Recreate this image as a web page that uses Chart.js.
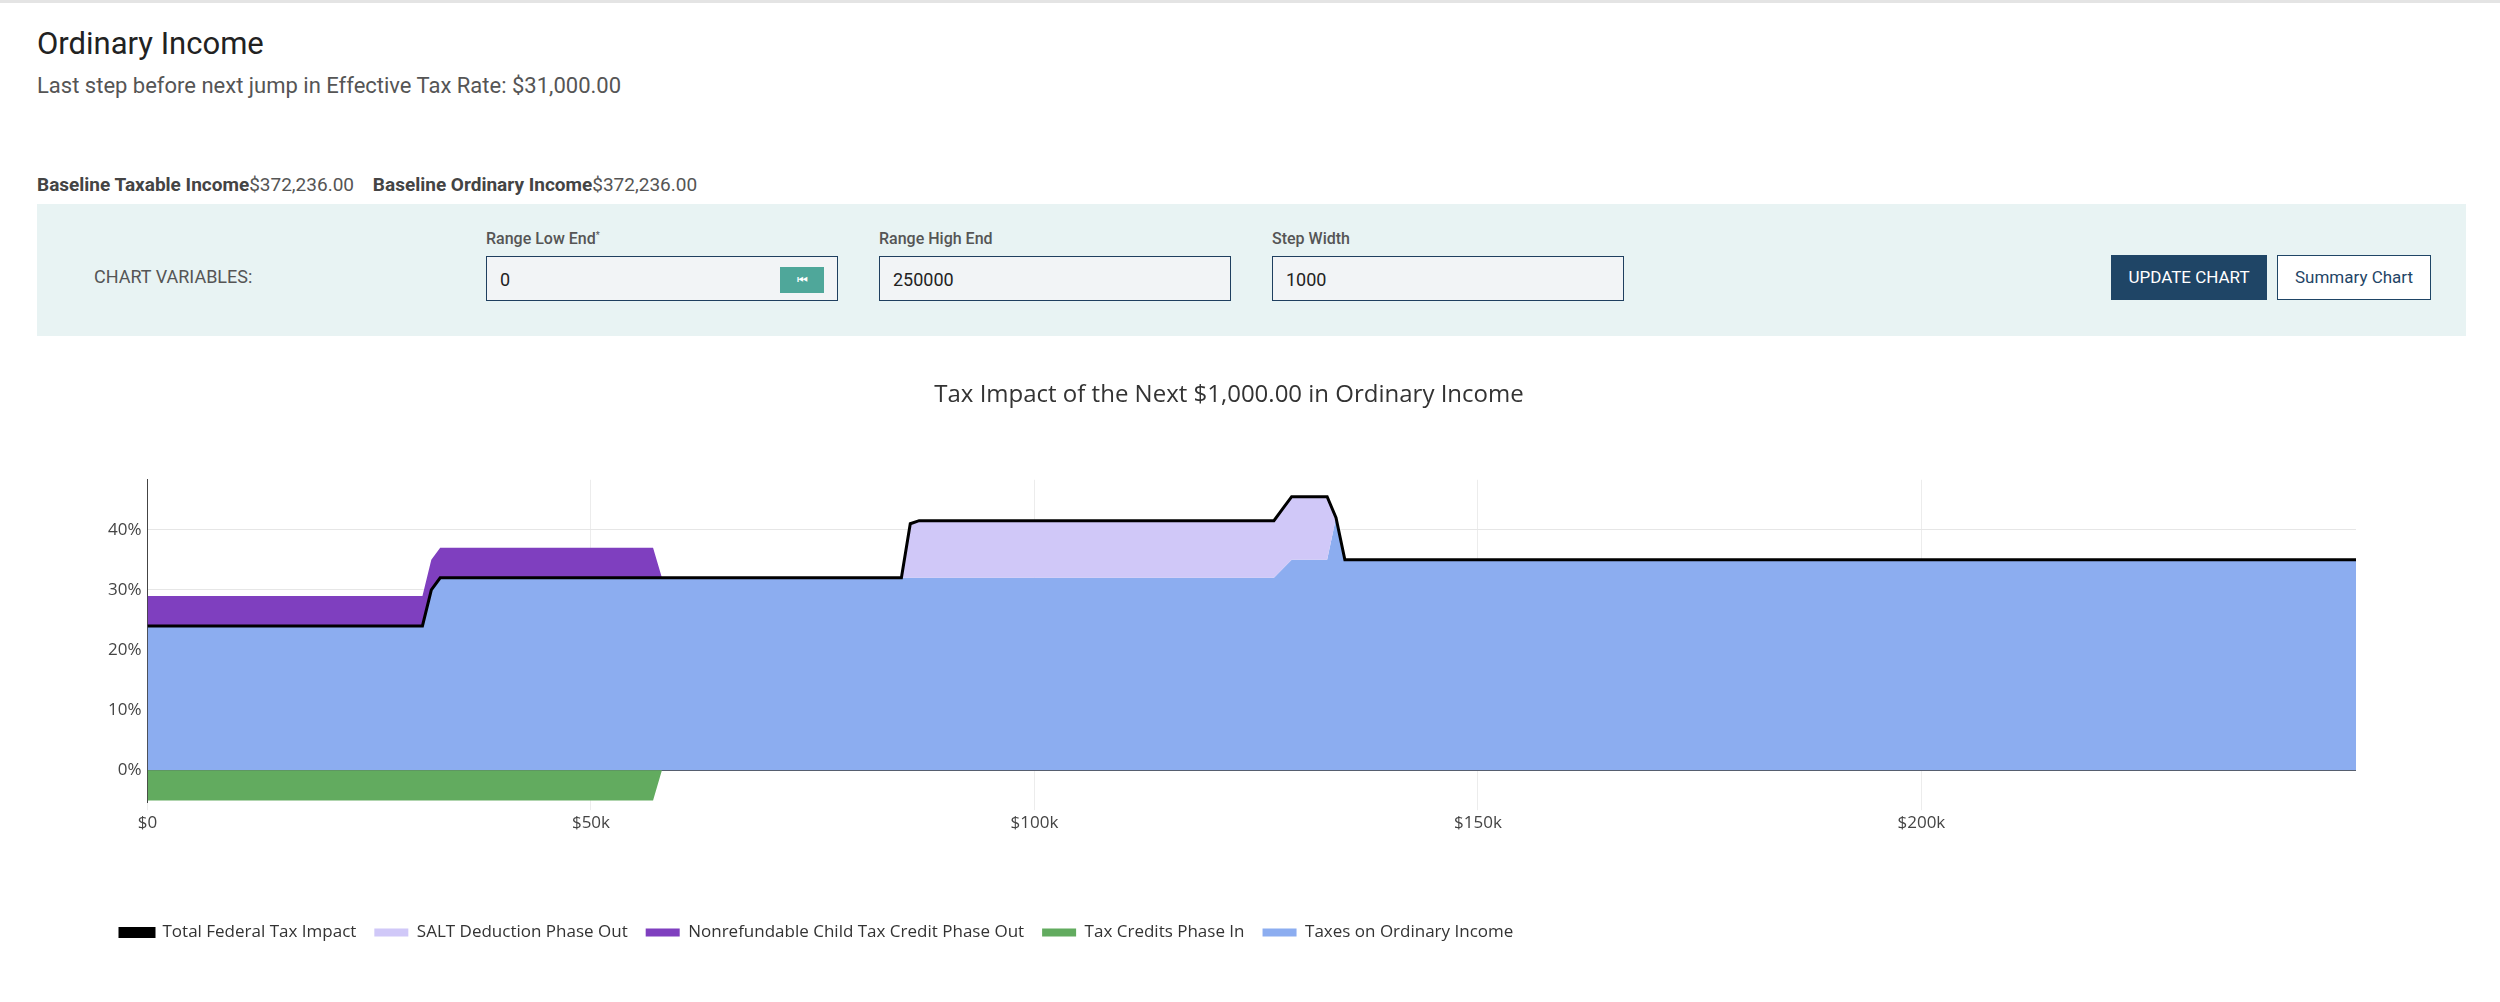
<!DOCTYPE html>
<html>
<head>
<meta charset="utf-8">
<script src="https://cdn.jsdelivr.net/npm/chart.js@4"></script>
<style>
  body { margin: 0; width: 2500px; height: 1002px; background: #fff; font-family: Roboto, sans-serif; color: #333; position: relative; overflow: hidden; border-top: 3px solid #e4e4e4; box-sizing: border-box; }
  h1 { position: absolute; left: 37px; top: 22px; margin: 0; font-size: 31px; font-weight: 400; color: #222; }
  .sub { position: absolute; left: 37px; top: 70px; font-size: 22px; color: #555; }
  .base { position: absolute; left: 37px; top: 170px; font-size: 19px; color: #555; }
  .base b { color: #444; }
  .panel { position: absolute; left: 37px; top: 201px; width: 2429px; height: 132px; background: #e8f3f3; }
  .panel .lbl { position: absolute; left: 57px; top: 62px; font-size: 18px; color: #555; }
  .fld { position: absolute; top: 25px; }
  .fld span { font-size: 16px; font-weight: 500; color: #555; }
  .fld .box { margin-top: 8px; width: 352px; height: 45px; border: 1px solid #1f3f5f; background: #f2f4f6; box-sizing: border-box; padding: 12px 13px; font-size: 18px; color: #222; position: relative; }
  .ff { position: absolute; right: 13px; top: 10px; width: 44px; height: 26px; background: #4fa79a; color: #fff; font-size: 12px; text-align: center; line-height: 26px; }
  .btn1 { position: absolute; left: 2074px; top: 51px; width: 156px; height: 45px; background: #1f4566; color: #fff; font-size: 17px; text-align: center; line-height: 45px; }
  .btn2 { position: absolute; left: 2240px; top: 51px; width: 152px; height: 43px; border: 1px solid #1f4566; color: #1f4566; font-size: 17px; text-align: center; line-height: 43px; background: #fff; }
  .chartbox { position: absolute; left: 37px; top: 368px; width: 2429px; height: 580px; }
</style>
</head>
<body>
<h1>Ordinary Income</h1>
<div class="sub">Last step before next jump in Effective Tax Rate: $31,000.00</div>
<div class="base"><b>Baseline Taxable Income</b>$372,236.00 &nbsp;&nbsp; <b>Baseline Ordinary Income</b>$372,236.00</div>
<div class="panel">
  <div class="lbl">CHART VARIABLES:</div>
  <div class="fld" style="left:449px"><span>Range Low End<sup style="font-size:9px">*</sup></span><div class="box">0<div class="ff">&#9198;</div></div></div>
  <div class="fld" style="left:842px"><span>Range High End</span><div class="box">250000</div></div>
  <div class="fld" style="left:1235px"><span>Step Width</span><div class="box">1000</div></div>
  <div class="btn1">UPDATE CHART</div>
  <div class="btn2">Summary Chart</div>
</div>
<div class="chartbox"><canvas id="chart"></canvas></div>
<script>
// --- DATA (breakpoints of the step series, income in dollars, rates in %) ---
const income      = [0, 31000, 32000, 33000, 57000, 58000, 85000, 86000, 87000, 127000, 128000, 129000, 133000, 134000, 135000, 249000];
const totalImpact = [24, 24, 30, 32, 32, 32, 32, 41, 41.5, 41.5, 43.5, 45.5, 45.5, 42, 35, 35];
const saltPhase   = [0, 0, 0, 0, 0, 0, 0, 9, 9.5, 9.5, 10, 10.5, 10.5, 0, 0, 0];
const childCredit = [5, 5, 5, 5, 5, 0, 0, 0, 0, 0, 0, 0, 0, 0, 0, 0];
const creditsIn   = [-5, -5, -5, -5, -5, 0, 0, 0, 0, 0, 0, 0, 0, 0, 0, 0];
const ordinaryTax = [24, 24, 30, 32, 32, 32, 32, 32, 32, 32, 33.5, 35, 35, 42, 35, 35];
const xTicks = [0, 50000, 100000, 150000, 200000];
const yTicks = [0, 10, 20, 30, 40];

const pts = (vals) => income.map((x, i) => ({ x, y: vals[i] }));
const onTop = (vals) => income.map((x, i) => ({ x, y: ordinaryTax[i] + vals[i] }));

const font = "'Open Sans', sans-serif";
Chart.defaults.font.family = font;
Chart.defaults.color = '#444';

const base = { type: 'line', pointRadius: 0, tension: 0, borderWidth: 0 };

// shifts the legend row right so it starts under the plot like the original
const legendShift = {
    id: 'legendShift',
    afterLayout(chart) {
        chart.legend.legendHitBoxes.forEach(b => { b.left += 45; });
    }
};

new Chart(document.getElementById('chart'), {
    data: {
        datasets: [
            { ...base, label: 'Total Federal Tax Impact', data: pts(totalImpact), borderColor: '#000', backgroundColor: '#000', borderWidth: 3, fill: false },
            { ...base, label: 'SALT Deduction Phase Out', data: onTop(saltPhase), borderColor: '#d0c8f8', backgroundColor: '#d0c8f8', fill: 4 },
            { ...base, label: 'Nonrefundable Child Tax Credit Phase Out', data: onTop(childCredit), borderColor: '#7f3fbf', backgroundColor: '#7f3fbf', fill: 4 },
            { ...base, label: 'Tax Credits Phase In', data: pts(creditsIn), borderColor: '#62ab5f', backgroundColor: '#62ab5f', fill: 'origin' },
            { ...base, label: 'Taxes on Ordinary Income', data: pts(ordinaryTax), borderColor: '#8cadf0', backgroundColor: '#8cadf0', fill: 'origin' }
        ]
    },
    plugins: [legendShift],
    options: {
        responsive: true,
        maintainAspectRatio: false,
        animation: false,
        layout: { padding: { left: 65, right: 110 } },
        plugins: {
            title: { display: true, text: 'Tax Impact of the Next $1,000.00 in Ordinary Income', font: { size: 24, weight: 'normal', family: font }, color: '#333', padding: { top: 10, bottom: 70 } },
            legend: { position: 'bottom', align: 'start', labels: { boxWidth: 34, boxHeight: 8, padding: 18, font: { size: 17 }, color: '#333' } },
            tooltip: { enabled: false }
        },
        scales: {
            x: {
                type: 'linear', min: 0, max: 249000,
                afterBuildTicks: s => { s.ticks = xTicks.map(v => ({ value: v })); },
                ticks: { font: { size: 17 }, maxRotation: 0, callback: v => v === 0 ? '$0' : '$' + v / 1000 + 'k' },
                title: { display: true, text: ' ', padding: { top: 55, bottom: 0 } },
                grid: { color: '#ececec', drawTicks: true, tickLength: 8 },
                border: { display: false }
            },
            y: {
                min: -5.3, max: 48.3,
                afterBuildTicks: s => { s.ticks = yTicks.map(v => ({ value: v })); },
                ticks: { font: { size: 17 }, padding: 6, callback: v => v + '%' },
                grid: { color: ctx => ctx.tick && ctx.tick.value === 0 ? '#444' : '#e6e6e6', lineWidth: ctx => ctx.tick && ctx.tick.value === 0 ? 2 : 1, drawTicks: false },
                border: { color: '#444' }
            }
        }
    }
});
</script>
</body>
</html>
